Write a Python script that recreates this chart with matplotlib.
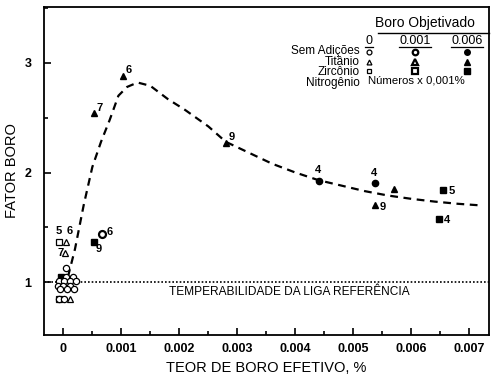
import matplotlib.pyplot as plt
from matplotlib.ticker import MultipleLocator

plt.rcParams['font.family'] = ['Liberation Sans', 'DejaVu Sans']

# dashed trend curve through the fator boro data
curve_x = [0.00008, 0.0002, 0.00035, 0.0005, 0.00065, 0.0008, 0.00095, 0.0011,
           0.00128, 0.0015, 0.0018, 0.0021, 0.0025, 0.0028, 0.0032, 0.0036,
           0.0040, 0.0044, 0.0048, 0.0052, 0.0056, 0.0060, 0.0064, 0.0068, 0.0072]
curve_y = [1.05, 1.30, 1.70, 2.05, 2.28, 2.48, 2.70, 2.78,
           2.82, 2.79, 2.67, 2.57, 2.42, 2.28, 2.18, 2.08,
           2.00, 1.93, 1.88, 1.83, 1.79, 1.76, 1.735, 1.715, 1.70]

# boro objetivado 0.006 (filled markers)
ti_full_x = [0.00103, 0.00053, 0.00281, 0.00571, 0.00538]
ti_full_y = [2.88, 2.54, 2.27, 1.85, 1.70]
ti_full_lbl = ['6', '7', '9', '', '9']
sem_full_x = [0.00441, 0.00538]
sem_full_y = [1.92, 1.90]
sem_full_lbl = ['4', '4']
zr_full_x = [0.00655, 0.00647, 0.00053, -0.00004]
zr_full_y = [1.84, 1.58, 1.37, 1.05]
zr_full_lbl = ['5', '4', '9', '']

# boro objetivado 0.001
sem_mid_x = [0.00067]
sem_mid_y = [1.44]
sem_mid_lbl = ['6']

# boro objetivado 0 (open markers near zero)
zr_open_x = [-0.00008, -0.00008]
zr_open_y = [1.37, 0.85]
zr_open_lbl = ['5', '']
ti_open_x = [0.00005, 0.00003, 0.00012]
ti_open_y = [1.37, 1.27, 0.85]
ti_open_lbl = ['6', '7', '']
sem_open_x = [0.00005, 0.00005, 0.00017, -0.00008, 0.00002, 0.00012, 0.00022,
              -0.0001, 0.0, 0.00012, -0.00006, 0.00007, 0.00018, -0.00008, 0.00002]
sem_open_y = [1.13, 1.05, 1.05, 1.01, 1.01, 1.01, 1.01,
              0.97, 0.97, 0.97, 0.94, 0.94, 0.94, 0.85, 0.85]

fig = plt.figure(figsize=(4.91, 3.78), dpi=100)
ax = fig.add_axes([0.09, 0.114, 0.906, 0.868])

ax.plot(curve_x, curve_y, color='black', linestyle=(0, (3.5, 2.5)), linewidth=1.6)
ax.axhline(1.0, color='black', linestyle=(0, (1, 1.2)), linewidth=1.2)
ax.text(0.0039, 0.915, 'TEMPERABILIDADE DA LIGA REFERÊNCIA', fontsize=8.6,
        ha='center', va='center')

ms = 4.5


def draw(xs, ys, labels, marker, fill, dx=0.00004, dy=0.05):
    for x, y, lbl in zip(xs, ys, labels):
        if fill == 'full':
            ax.plot(x, y, marker=marker, color='black', ms=ms, linestyle='none')
        elif fill == 'half':
            ax.plot(x, y, marker=marker, mfc='white', mec='black', mew=1.6,
                    ms=ms + 0.5, linestyle='none')
        else:
            ax.plot(x, y, marker=marker, mfc='white', mec='black', mew=0.9,
                    ms=ms, linestyle='none')
        if lbl:
            ax.text(x + dx, y + dy, lbl, fontsize=8, fontweight='bold',
                    ha='left', va='center')


draw(ti_full_x[:3], ti_full_y[:3], ti_full_lbl[:3], '^', 'full')
draw(ti_full_x[3:], ti_full_y[3:], ti_full_lbl[3:], '^', 'full', dx=0.00007, dy=-0.01)
draw(sem_full_x, sem_full_y, sem_full_lbl, 'o', 'full', dx=-0.00008, dy=0.1)
draw(zr_full_x[:2], zr_full_y[:2], zr_full_lbl[:2], 's', 'full', dx=0.00009, dy=-0.01)
draw(zr_full_x[2:], zr_full_y[2:], zr_full_lbl[2:], 's', 'full', dx=0.00003, dy=-0.07)
draw(sem_mid_x, sem_mid_y, sem_mid_lbl, 'o', 'half', dx=0.00008, dy=0.02)
draw(zr_open_x, zr_open_y, zr_open_lbl, 's', 'open', dx=-0.00005, dy=0.1)
draw(ti_open_x, ti_open_y, ti_open_lbl, '^', 'open', dx=0.00005, dy=0.1)
ax.texts[-2].set_position((0.00005, 1.47))
ax.texts[-1].set_position((-0.0001, 1.27))
draw(sem_open_x, sem_open_y, [''] * len(sem_open_x), 'o', 'open')

ax.set_xlim(-0.00033, 0.00734)
ax.set_ylim(0.52, 3.51)
ax.xaxis.set_minor_locator(MultipleLocator(0.0005))
ax.yaxis.set_minor_locator(MultipleLocator(0.5))
ax.set_xticks([0, 0.001, 0.002, 0.003, 0.004, 0.005, 0.006, 0.007])
ax.set_xticklabels(['0', '0.001', '0.002', '0.003', '0.004', '0.005', '0.006', '0.007'])
ax.set_yticks([1, 2, 3])
ax.set_yticklabels(['1', '2', '3'])
ax.tick_params(which='both', direction='in', length=5, width=1.2, labelsize=9)
ax.tick_params(which='minor', length=3)
ax.tick_params(axis='x', pad=6)
ax.tick_params(axis='y', pad=9)
for lab in ax.get_xticklabels() + ax.get_yticklabels():
    lab.set_fontweight('bold')
for sp in ax.spines.values():
    sp.set_linewidth(1.3)

ax.set_xlabel('TEOR DE BORO EFETIVO, %', fontsize=10.5, labelpad=4)
ax.set_ylabel('FATOR BORO', fontsize=10.5, labelpad=4)

# legend block: Boro Objetivado
tr = ax.transAxes
ax.text(0.856, 0.951, 'Boro Objetivado', fontsize=10, ha='center', va='center', transform=tr)
ax.plot([0.75, 1.0], [0.921, 0.921], color='black', linewidth=1.0, transform=tr, clip_on=False)
col_x = [0.731, 0.833, 0.95]
heads = ['0', '0.001', '0.006']
for cx, h in zip(col_x, heads):
    ax.text(cx, 0.895, h, fontsize=9, ha='center', va='center', transform=tr)
    w = 0.009 if h == '0' else 0.036
    ax.plot([cx - w, cx + w], [0.879, 0.879], color='black', linewidth=0.9, transform=tr)

row_names = ['Sem Adições', 'Titânio', 'Zircônio', 'Nitrogênio']
row_y = [0.862, 0.833, 0.804, 0.775]
row_markers = ['o', '^', 's']
ax.text(0.71, row_y[0] + 0.021, '\n'.join(row_names), fontsize=8.5, ha='right',
        va='top', multialignment='right', linespacing=0.83, transform=tr)
for mk, ry in zip(row_markers, row_y):
    ax.plot(col_x[0], ry, marker=mk, mfc='white', mec='black', mew=0.9, ms=3.5, transform=tr)
    ax.plot(col_x[1], ry, marker=mk, mfc='white', mec='black', mew=1.6, ms=4, transform=tr)
    ax.plot(col_x[2], ry, marker=mk, color='black', ms=4, transform=tr)
ax.text(0.729, row_y[3], 'Números x 0,001%', fontsize=8.2, ha='left', va='center', transform=tr)

fig.savefig('out.png', dpi=100)
